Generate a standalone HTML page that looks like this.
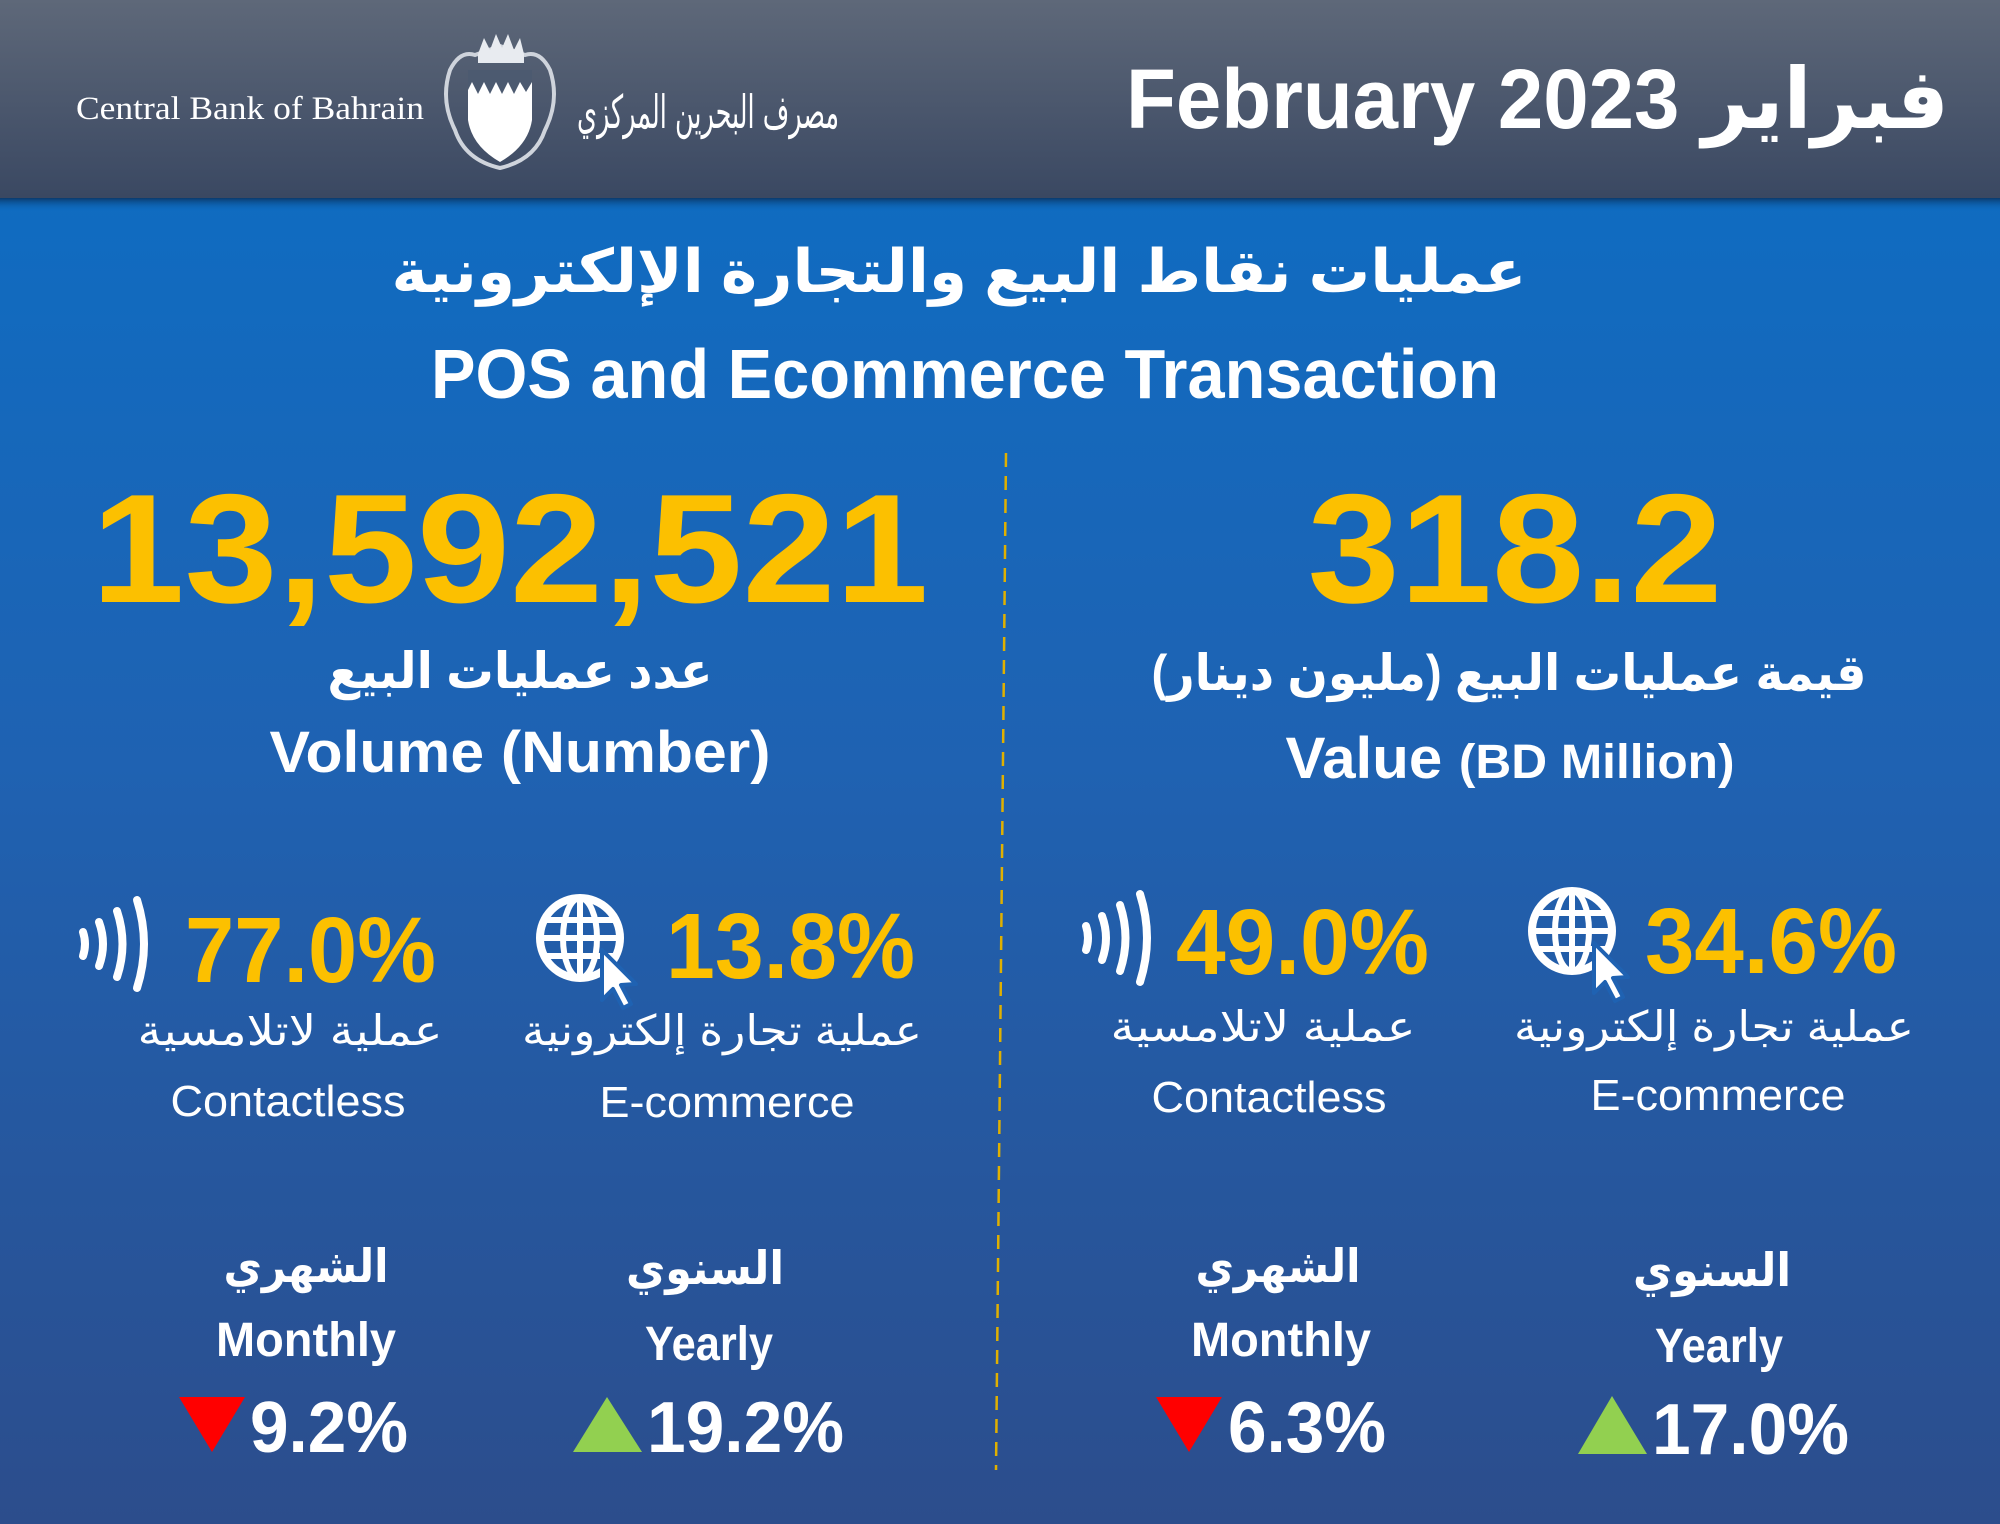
<!DOCTYPE html>
<html><head><meta charset="utf-8">
<style>
html,body{margin:0;padding:0;width:2000px;height:1524px;overflow:hidden;background:#1f5aa3}
svg{display:block}
text{font-family:"Liberation Sans","DejaVu Sans",sans-serif}
</style></head>
<body>
<svg width="2000" height="1524" viewBox="0 0 2000 1524" xmlns="http://www.w3.org/2000/svg">
<defs>
<linearGradient id="hd" x1="0" y1="0" x2="0" y2="1">
<stop offset="0" stop-color="#5e6879"/><stop offset="1" stop-color="#3a4862"/>
</linearGradient>
<linearGradient id="bd" x1="0" y1="0" x2="0" y2="1">
<stop offset="0" stop-color="#0a6fc6"/><stop offset="0.5" stop-color="#1f62b2"/><stop offset="1" stop-color="#2c4d8c"/>
</linearGradient>
<linearGradient id="sh" x1="0" y1="0" x2="0" y2="1">
<stop offset="0" stop-color="#0b3a6c"/><stop offset="1" stop-color="#0a6fc6" stop-opacity="0"/>
</linearGradient>
<g id="globe">
<circle cx="0" cy="0" r="40" fill="none" stroke="#fff" stroke-width="8"/>
<ellipse cx="0" cy="0" rx="17" ry="40" fill="none" stroke="#fff" stroke-width="6"/>
<line x1="0" y1="-40" x2="0" y2="40" stroke="#fff" stroke-width="6"/>
<line x1="-40" y1="0" x2="40" y2="0" stroke="#fff" stroke-width="6"/>
<line x1="-35" y1="-18" x2="35" y2="-18" stroke="#fff" stroke-width="6"/>
<line x1="-35" y1="18" x2="35" y2="18" stroke="#fff" stroke-width="6"/>
<path d="M22,12 L22,62 L33,51 L43,70 L51,66 L41,47 L56,46 Z" fill="#fff" stroke="#1f62b2" stroke-width="4" stroke-linejoin="round"/>
</g>
<g id="wave" fill="none" stroke="#fff" stroke-width="8" stroke-linecap="round">
<path d="M4,-12 Q8,0 4,12"/>
<path d="M20,-22 Q28,0 20,22"/>
<path d="M38,-33 Q49,0 38,33"/>
<path d="M58,-44 Q72,0 58,44"/>
</g>
</defs>
<rect width="2000" height="1524" fill="url(#bd)"/>
<rect y="198" width="2000" height="14" fill="url(#sh)"/>
<rect width="2000" height="198" fill="url(#hd)"/>

<text x="76" y="119" font-size="33" fill="#fff" textLength="348" lengthAdjust="spacingAndGlyphs" style="font-family:'Liberation Serif',serif">Central Bank of Bahrain</text>
<g transform="translate(0,10)">
<path d="M450,60 Q440,90 455,120 Q465,150 500,158 Q535,150 545,120 Q560,90 550,60 Q540,40 525,45 L500,36 L475,45 Q460,40 450,60 Z" fill="none" stroke="#cfd4dc" stroke-width="4"/>
<path d="M478,44 L484,28 L490,40 L496,24 L502,38 L508,24 L514,40 L520,28 L524,44 Z" fill="#e8ebf0"/>
<rect x="478" y="44" width="46" height="9" fill="#e8ebf0"/>
<path d="M468,60 L532,60 L532,110 Q528,136 500,152 Q472,136 468,110 Z" fill="#fff"/>
<path d="M468,60 L532,60 L532,72 L526,82 L520,72 L514,84 L508,72 L502,84 L496,72 L490,84 L484,72 L478,84 L472,72 L468,80 Z" fill="#4c5a70"/>
</g>
<text x="708" y="128" text-anchor="middle" font-size="46" fill="#fff" style="font-family:'DejaVu Serif',serif" textLength="262" lengthAdjust="spacingAndGlyphs">مصرف البحرين المركزي</text>

<text x="1126" y="128" font-size="84" font-weight="bold" fill="#fff" textLength="823" lengthAdjust="spacingAndGlyphs">February 2023 فبراير</text>

<text x="959" y="292" text-anchor="middle" font-size="60" font-weight="bold" fill="#fff" textLength="1135" lengthAdjust="spacingAndGlyphs">عمليات نقاط البيع والتجارة الإلكترونية</text>
<text x="965" y="398" text-anchor="middle" font-size="70" font-weight="bold" fill="#fff" textLength="1068" lengthAdjust="spacingAndGlyphs">POS and Ecommerce Transaction</text>

<line x1="1006" y1="453" x2="996" y2="1470" stroke="#e0b000" stroke-width="2.5" stroke-dasharray="14,9"/>

<text x="510" y="602" text-anchor="middle" font-size="155" font-weight="bold" fill="#fcc000" textLength="837" lengthAdjust="spacingAndGlyphs">13,592,521</text>
<text x="1515" y="602" text-anchor="middle" font-size="155" font-weight="bold" fill="#fcc000" textLength="415" lengthAdjust="spacingAndGlyphs">318.2</text>

<text x="520" y="688" text-anchor="middle" font-size="50" font-weight="bold" fill="#fff" textLength="385" lengthAdjust="spacingAndGlyphs">عدد عمليات البيع</text>
<text x="520" y="772" text-anchor="middle" font-size="58" font-weight="bold" fill="#fff" textLength="501" lengthAdjust="spacingAndGlyphs">Volume (Number)</text>
<text x="1509" y="690" text-anchor="middle" font-size="50" font-weight="bold" fill="#fff" textLength="715" lengthAdjust="spacingAndGlyphs">قيمة عمليات البيع (مليون دينار)</text>
<text x="1510" y="778" text-anchor="middle" font-weight="bold" fill="#fff" textLength="449" lengthAdjust="spacingAndGlyphs"><tspan font-size="58">Value </tspan><tspan font-size="48">(BD Million)</tspan></text>

<use href="#wave" x="79" y="944"/>
<text x="185" y="982" font-size="93" font-weight="bold" fill="#fcc000" textLength="251" lengthAdjust="spacingAndGlyphs">77.0%</text>
<text x="290" y="1045" text-anchor="middle" font-size="42" fill="#fff" textLength="305" lengthAdjust="spacingAndGlyphs">عملية لاتلامسية</text>
<text x="288" y="1116" text-anchor="middle" font-size="44" fill="#fff" textLength="235" lengthAdjust="spacingAndGlyphs">Contactless</text>
<use href="#globe" x="580" y="938"/>
<text x="666" y="978" font-size="93" font-weight="bold" fill="#fcc000" textLength="249" lengthAdjust="spacingAndGlyphs">13.8%</text>
<text x="722" y="1045" text-anchor="middle" font-size="42" fill="#fff" textLength="400" lengthAdjust="spacingAndGlyphs">عملية تجارة إلكترونية</text>
<text x="727" y="1117" text-anchor="middle" font-size="44" fill="#fff" textLength="255" lengthAdjust="spacingAndGlyphs">E-commerce</text>

<use href="#wave" x="1082" y="938"/>
<text x="1176" y="974" font-size="93" font-weight="bold" fill="#fcc000" textLength="253" lengthAdjust="spacingAndGlyphs">49.0%</text>
<text x="1263" y="1041" text-anchor="middle" font-size="42" fill="#fff" textLength="305" lengthAdjust="spacingAndGlyphs">عملية لاتلامسية</text>
<text x="1269" y="1112" text-anchor="middle" font-size="44" fill="#fff" textLength="235" lengthAdjust="spacingAndGlyphs">Contactless</text>
<use href="#globe" x="1572" y="931"/>
<text x="1645" y="973" font-size="93" font-weight="bold" fill="#fcc000" textLength="252" lengthAdjust="spacingAndGlyphs">34.6%</text>
<text x="1714" y="1041" text-anchor="middle" font-size="42" fill="#fff" textLength="400" lengthAdjust="spacingAndGlyphs">عملية تجارة إلكترونية</text>
<text x="1718" y="1110" text-anchor="middle" font-size="44" fill="#fff" textLength="255" lengthAdjust="spacingAndGlyphs">E-commerce</text>

<text x="306" y="1282" text-anchor="middle" font-size="46" font-weight="bold" fill="#fff" textLength="165" lengthAdjust="spacingAndGlyphs">الشهري</text>
<text x="306" y="1356" text-anchor="middle" font-size="48" font-weight="bold" fill="#fff" textLength="180" lengthAdjust="spacingAndGlyphs">Monthly</text>
<polygon points="179,1397 245,1397 212,1452" fill="#ff0000"/>
<text x="250" y="1452" font-size="72" font-weight="bold" fill="#fff" textLength="158" lengthAdjust="spacingAndGlyphs">9.2%</text>

<text x="705" y="1284" text-anchor="middle" font-size="46" font-weight="bold" fill="#fff" textLength="158" lengthAdjust="spacingAndGlyphs">السنوي</text>
<text x="709" y="1360" text-anchor="middle" font-size="48" font-weight="bold" fill="#fff" textLength="128" lengthAdjust="spacingAndGlyphs">Yearly</text>
<polygon points="573,1452 642,1452 607,1397" fill="#92d050"/>
<text x="647" y="1452" font-size="72" font-weight="bold" fill="#fff" textLength="197" lengthAdjust="spacingAndGlyphs">19.2%</text>

<text x="1278" y="1282" text-anchor="middle" font-size="46" font-weight="bold" fill="#fff" textLength="165" lengthAdjust="spacingAndGlyphs">الشهري</text>
<text x="1281" y="1356" text-anchor="middle" font-size="48" font-weight="bold" fill="#fff" textLength="180" lengthAdjust="spacingAndGlyphs">Monthly</text>
<polygon points="1156,1397 1222,1397 1189,1452" fill="#ff0000"/>
<text x="1228" y="1452" font-size="72" font-weight="bold" fill="#fff" textLength="158" lengthAdjust="spacingAndGlyphs">6.3%</text>

<text x="1712" y="1286" text-anchor="middle" font-size="46" font-weight="bold" fill="#fff" textLength="158" lengthAdjust="spacingAndGlyphs">السنوي</text>
<text x="1719" y="1362" text-anchor="middle" font-size="48" font-weight="bold" fill="#fff" textLength="128" lengthAdjust="spacingAndGlyphs">Yearly</text>
<polygon points="1578,1454 1647,1454 1612,1396" fill="#92d050"/>
<text x="1652" y="1454" font-size="72" font-weight="bold" fill="#fff" textLength="197" lengthAdjust="spacingAndGlyphs">17.0%</text>
</svg>
</body></html>
